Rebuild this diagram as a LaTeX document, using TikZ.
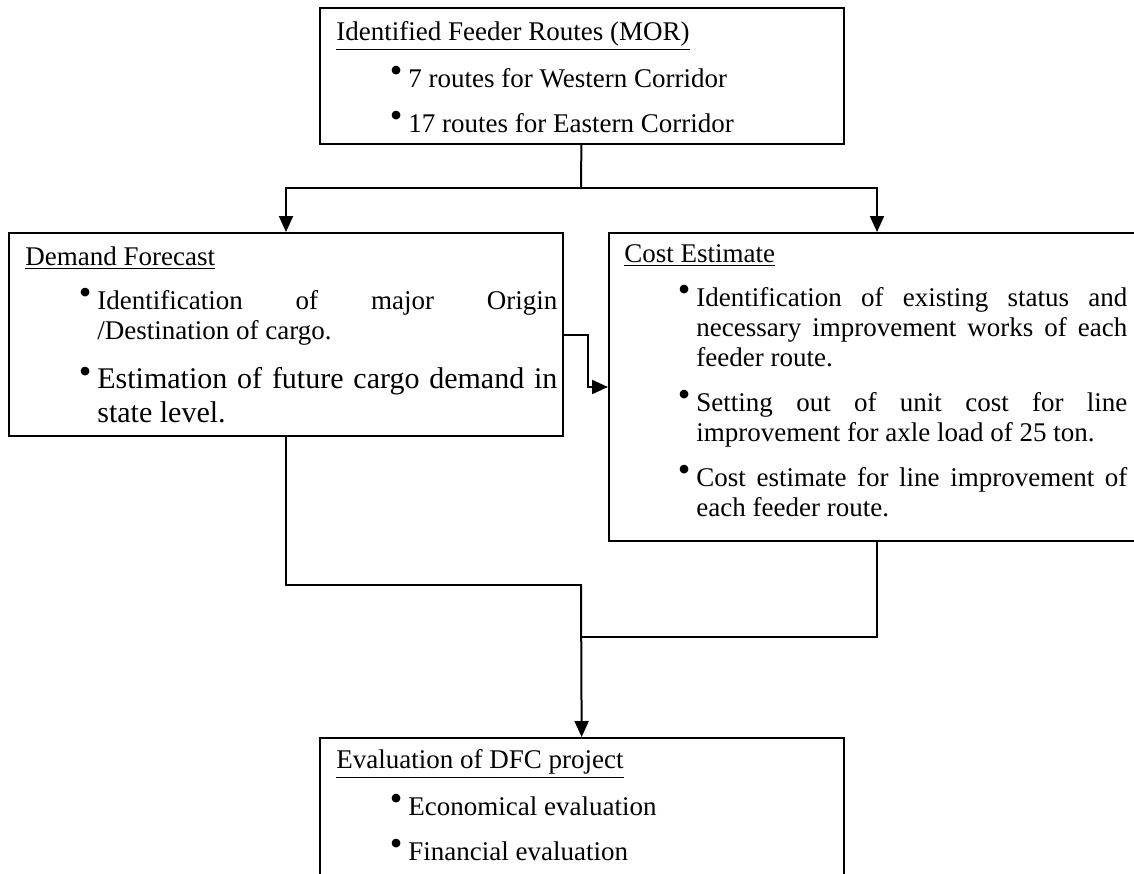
\documentclass[tikz,border=0pt]{standalone}
\usepackage{fontspec}
\setmainfont{Liberation Serif}
\usepackage{enumitem}
\usetikzlibrary{positioning, arrows.meta}
\newcommand{\dotmark}{\raisebox{2.4pt}{\fontsize{18}{18}\selectfont\textbullet}}
\setlist[itemize]{label=\dotmark, leftmargin=36pt, labelsep=3pt,
    topsep=7pt, partopsep=0pt, itemsep=7.5pt, parsep=0pt}
\tikzset{
    box_node/.style={rectangle, draw=black, line width=1pt, anchor=north west, inner sep=0pt},
    box_text/.style={inner sep=0pt, align=justify, font=\fontsize{13.5}{15}\selectfont},
    arrow/.style={line width=1pt, -{Triangle[length=8pt,width=7pt]}},
    line/.style={line width=1pt, line cap=rect},
}

\begin{document}
\begin{tikzpicture}[x=0.5pt, y=-0.5pt]
      \useasboundingbox (0,0) rectangle (1134,873);
      \clip (0,0) rectangle (1134,873);
      %%%%%%%%%%%%%%%
      % Boxes       %
      %%%%%%%%%%%%%%%
      \node (feeder) [box_node, minimum width=262pt, minimum height=68pt] at (319,7) {};
      \node (demand) [box_node, minimum width=277pt, minimum height=101.5pt] at (8,232) {};
      \node (cost) [box_node, minimum width=268pt, minimum height=154pt] at (608,232) {};
      \node (eval) [box_node, minimum width=262pt, minimum height=81.5pt] at (319,737) {};

      \node (feeder_txt) [box_text, text width=250pt, below right=7pt and 8.5pt of feeder.north west]
          {\underline{Identified Feeder Routes (MOR)}
           \begin{itemize}
           \item 7 routes for Western Corridor
           \item 17 routes for Eastern Corridor
           \end{itemize}};
      \node (demand_txt) [box_text, text width=266pt, below right=7pt and 8.5pt of demand.north west]
          {\underline{Demand Forecast}
           \begin{itemize}
           \item Identification of major Origin\linebreak /Destination of cargo.
           \item \fontsize{15}{17}\selectfont Estimation of future cargo demand in\linebreak state level.
           \end{itemize}};
      \node (cost_txt) [box_text, text width=251.5pt, below right=6pt and 8pt of cost.north west]
          {\underline{Cost Estimate}
           \begin{itemize}
           \item Identification of existing status and\linebreak necessary improvement works of each\linebreak feeder route.
           \item Setting out of unit cost for line\linebreak improvement for axle load of 25 ton.
           \item Cost estimate for line improvement of\linebreak each feeder route.
           \end{itemize}};
      \node (eval_txt) [box_text, text width=250pt, below right=6pt and 8.5pt of eval.north west]
          {\underline{Evaluation of DFC project}
           \begin{itemize}
           \item Economical evaluation
           \item Financial evaluation
           \end{itemize}};

      %%%%%%%%%%%%%%%
      % Connectors  %
      %%%%%%%%%%%%%%%
      \coordinate (split) at (581,188);
      \coordinate (merge) at (581,585);
      \coordinate (join) at (581,637);

      \draw [line] (feeder) -- (split);
      \draw [arrow] (split) -| (demand);
      \draw [arrow] (split) -| (cost);
      \draw [arrow] (demand.east) -- ++(24,0) |- (cost);
      \draw [line] (demand) |- (merge);
      \draw [line] (cost) |- (join);
      \draw [arrow] (merge) -- (eval);

    \end{tikzpicture}
\end{document}
